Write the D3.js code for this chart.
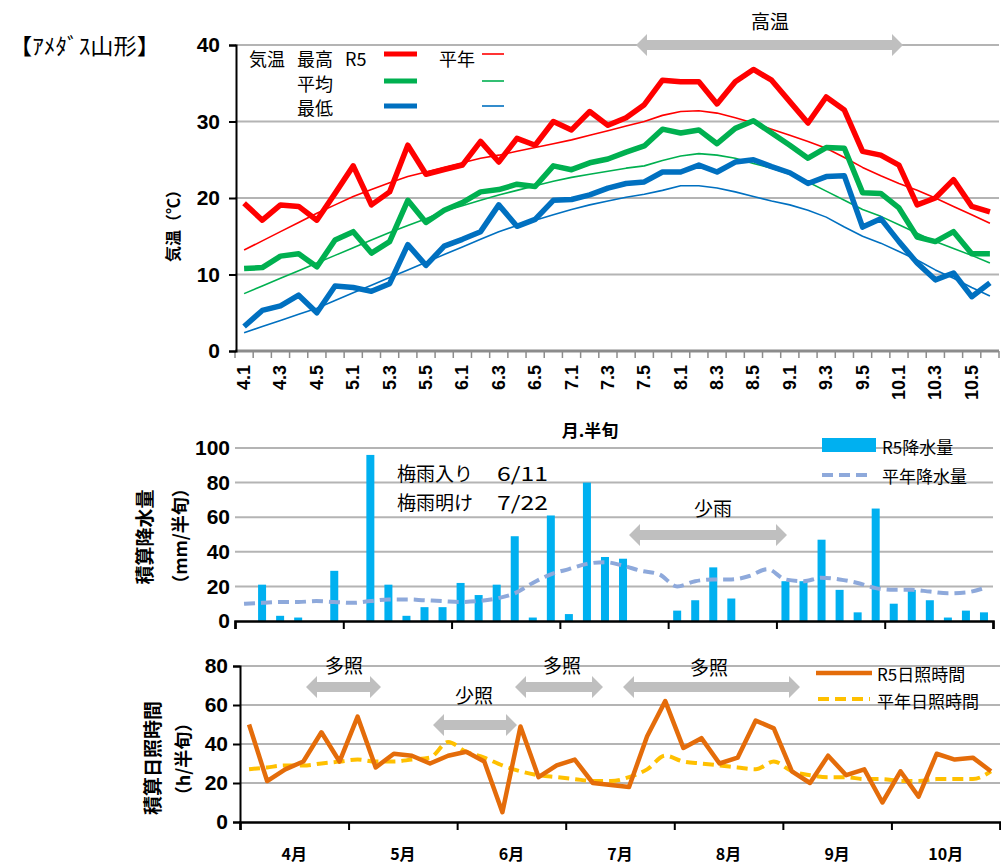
<!DOCTYPE html>
<html><head><meta charset="utf-8">
<script src="https://cdn.jsdelivr.net/npm/d3@7"></script>
<style>
html,body{margin:0;padding:0;background:#fff;}
svg text{font-family:"Noto Sans CJK JP","Noto Sans",sans-serif;}
.num{font-family:"Liberation Sans",Arial,sans-serif !important;}
</style></head>
<body>
<svg id="c" width="1001" height="866"></svg>
<script>
// ---------- data ----------
const periods = ["4.1","4.2","4.3","4.4","4.5","4.6","5.1","5.2","5.3","5.4","5.5","5.6",
 "6.1","6.2","6.3","6.4","6.5","6.6","7.1","7.2","7.3","7.4","7.5","7.6",
 "8.1","8.2","8.3","8.4","8.5","8.6","9.1","9.2","9.3","9.4","9.5","9.6",
 "10.1","10.2","10.3","10.4","10.5","10.6"];
const months = ["4月","5月","6月","7月","8月","9月","10月"];
const maxR5 = [19.3,17.1,19.1,18.9,17.1,20.6,24.2,19.1,20.8,26.9,23.1,23.7,24.3,27.4,24.7,27.8,26.9,30.0,28.9,31.3,29.5,30.5,32.2,35.4,35.2,35.2,32.3,35.2,36.8,35.4,32.6,29.8,33.2,31.5,26.1,25.6,24.3,19.1,20.0,22.4,18.9,18.2];
const maxNorm = [13.2,14.4,15.6,16.8,18.0,19.1,20.2,21.1,22.0,22.8,23.4,24.0,24.6,25.2,25.6,26.1,26.6,27.1,27.6,28.2,28.8,29.4,30.0,30.8,31.3,31.4,31.1,30.5,29.8,29.0,28.2,27.4,26.5,25.3,24.0,22.9,21.9,21.0,20.0,18.9,17.8,16.7];
const meanR5 = [10.8,10.9,12.4,12.7,11.0,14.5,15.6,12.8,14.3,19.7,16.8,18.4,19.4,20.8,21.1,21.8,21.5,24.2,23.7,24.6,25.1,26.0,26.8,29.0,28.5,28.9,27.1,29.1,30.1,28.5,26.9,25.2,26.6,26.5,20.7,20.6,18.7,14.9,14.3,15.6,12.7,12.7];
const meanNorm = [7.5,8.5,9.5,10.5,11.5,12.5,13.5,14.5,15.5,16.4,17.3,18.3,19.0,19.7,20.4,21.0,21.6,22.2,22.7,23.1,23.5,23.9,24.2,24.9,25.5,25.8,25.6,25.2,24.5,23.9,23.1,22.1,20.9,19.7,18.5,17.6,16.5,15.4,14.3,13.4,12.5,11.5];
const minR5 = [3.2,5.3,5.9,7.3,5.0,8.5,8.3,7.8,8.8,13.9,11.2,13.7,14.6,15.6,19.1,16.3,17.2,19.7,19.8,20.4,21.3,21.9,22.1,23.4,23.4,24.3,23.4,24.7,25.0,24.1,23.3,21.9,22.8,22.9,16.2,17.3,14.3,11.5,9.3,10.2,7.1,8.9];
const minNorm = [2.4,3.2,4.0,4.8,5.6,6.6,7.6,8.6,9.6,10.6,11.6,12.6,13.6,14.6,15.6,16.4,17.1,17.8,18.5,19.1,19.6,20.1,20.5,21.0,21.6,21.6,21.3,20.8,20.2,19.6,19.1,18.4,17.5,16.2,15.0,14.1,13.0,11.9,10.6,9.5,8.3,7.2];
const precipR5 = [0,21,3,2,0,29,0,96,21,3,8,8,22,15,21,49,2,61,4,80,37,36,0,0,6,12,31,13,0,0,23,23,47,18,5,65,10,18,12,2,6,5];
const precipNorm = [10,10.5,11,11,11.5,11,10.5,11.5,12.5,12.5,12,11.5,11,11.5,13,16,22,27,30,33,34,32,29,27,20,23,24,24,26,30,24,23,25,24,22,19,18,18,17,16,16.5,19];
const sunR5 = [50,21,27,31,46,31,54,28,35,34,30,34,36,31,5,49,23,29,32,20,19,18,44,62,38,43,30,33,52,48,26,20,34,24,27,10,26,13,35,32,33,26];
const sunNorm = [27,28,29,29,30,31,32,31,31,32,33,41,36,33,29,26,24,23,22,21,21,23,27,34,31,30,29,28,27,31,26,24,23,23,22,22,21,21,22,22,22,26];
const tempTicks = [0,10,20,30,40];
const precipTicks = [0,20,40,60,80,100];
const sunTicks = [0,20,40,60,80];

// ---------- helpers ----------
const svg = d3.select("#c");
const idx = d3.range(periods.length);
const GRID = "#b4b4b4";
const RED = "#ff0000", GREEN = "#00b050", BLUE = "#0070c0";

function arrow(g, x1, x2, y){
  const sh = 5, hh = 11, hl = 11;
  const p = d3.path();
  p.moveTo(x1, y);
  p.lineTo(x1+hl, y-hh); p.lineTo(x1+hl, y-sh);
  p.lineTo(x2-hl, y-sh); p.lineTo(x2-hl, y-hh);
  p.lineTo(x2, y); p.lineTo(x2-hl, y+hh); p.lineTo(x2-hl, y+sh);
  p.lineTo(x1+hl, y+sh); p.lineTo(x1+hl, y+hh); p.closePath();
  g.append("path").attr("d", p.toString()).attr("fill", "#bfbfbf");
}
function txt(g, x, y, s, size, opts={}){
  const t = g.append("text").attr("x", x).attr("y", y).text(s)
    .attr("font-size", size).attr("fill", "#000")
    .attr("dominant-baseline", "central")
    .attr("text-anchor", opts.anchor || "start");
  if (opts.weight) t.attr("font-weight", opts.weight);
  if (opts.cls) t.attr("class", opts.cls);
  if (opts.len) t.attr("textLength", opts.len).attr("lengthAdjust", "spacingAndGlyphs");
  if (opts.rotate) t.attr("transform", `rotate(${opts.rotate},${x},${y})`);
  return t;
}

// title
txt(svg, 9, 44, "【ｱﾒﾀﾞｽ山形】", 22, {len: 151});

// ================= TOP PANEL =================
const xT = d3.scaleBand().domain(idx).range([235, 999]);
const yT = d3.scaleLinear().domain([0, 40]).range([351, 45]);
const gTop = svg.append("g");

gTop.selectAll("line.g").data(tempTicks.filter(d => d > 0)).join("line")
  .attr("x1", 235).attr("x2", 999).attr("y1", d => yT(d)).attr("y2", d => yT(d))
  .attr("stroke", GRID).attr("stroke-width", 2);

const xTickPos = d3.range(periods.length + 1).map(i => 235 + i * xT.step());
gTop.selectAll("line.xt").data(xTickPos).join("line")
  .attr("x1", d => d).attr("x2", d => d).attr("y1", 351).attr("y2", 358)
  .attr("stroke", "#8c8c8c").attr("stroke-width", 1.5);
gTop.append("line").attr("x1", 235).attr("x2", 999).attr("y1", 351).attr("y2", 351)
  .attr("stroke", "#8c8c8c").attr("stroke-width", 3);

const yAxT = gTop.append("g").attr("transform", "translate(236,0)")
  .call(d3.axisLeft(yT).tickValues(tempTicks).tickSize(7).tickPadding(9));
yAxT.select(".domain").attr("stroke", "#000").attr("stroke-width", 2);
yAxT.selectAll(".tick line").attr("stroke", "#000").attr("stroke-width", 2);
yAxT.selectAll(".tick text").attr("class", "num").attr("font-size", 21).attr("font-weight", "bold").attr("fill", "#000");

idx.filter(i => i % 2 === 0).forEach(i => {
  txt(gTop, xT(i) + xT.bandwidth()/2, 365, periods[i], 18, {anchor: "end", rotate: -90, cls: "num", weight: "bold"});
});
txt(gTop, 590, 429, "月.半旬", 17, {anchor: "middle", weight: "bold"});
txt(gTop, 172, 222, "気温（℃）", 16, {anchor: "middle", rotate: -90, weight: "bold"});

const lineT = d3.line().x((d, i) => xT(i) + xT.bandwidth()/2).y(d => yT(d));
const tSeries = [
  [maxNorm, RED, 1.6], [meanNorm, GREEN, 1.6], [minNorm, BLUE, 1.6],
  [maxR5, RED, 5.5], [meanR5, GREEN, 5.5], [minR5, BLUE, 5.5]
];
tSeries.forEach(([d, c, w]) => {
  gTop.append("path").datum(d).attr("d", lineT).attr("fill", "none")
    .attr("stroke", c).attr("stroke-width", w).attr("stroke-linejoin", "round");
});

txt(gTop, 249, 58, "気温", 18);
txt(gTop, 297, 58, "最高", 18);
txt(gTop, 345, 58, "R5", 18);
txt(gTop, 297, 83, "平均", 18);
txt(gTop, 297, 107, "最低", 18);
txt(gTop, 439, 58, "平年", 18);
[[RED, 54], [GREEN, 81], [BLUE, 106]].forEach(([c, y]) => {
  gTop.append("line").attr("x1", 384).attr("x2", 417).attr("y1", y).attr("y2", y).attr("stroke", c).attr("stroke-width", 5);
  gTop.append("line").attr("x1", 482).attr("x2", 504).attr("y1", y).attr("y2", y).attr("stroke", c).attr("stroke-width", 1.6);
});

txt(gTop, 770, 20, "高温", 19, {anchor: "middle"});
arrow(gTop, 636, 903, 45);

// ================= MIDDLE PANEL =================
const xM = d3.scaleBand().domain(idx).range([235, 993]);
const yM = d3.scaleLinear().domain([0, 100]).range([621, 448]);
const gMid = svg.append("g");
gMid.selectAll("line.g").data(precipTicks.filter(d => d > 0)).join("line")
  .attr("x1", 235).attr("x2", 993).attr("y1", d => yM(d)).attr("y2", d => yM(d))
  .attr("stroke", GRID).attr("stroke-width", 2);
const yAxM = gMid.append("g").attr("transform", "translate(235,0)")
  .call(d3.axisLeft(yM).tickValues(precipTicks).tickSize(0).tickPadding(5));
yAxM.select(".domain").remove();
yAxM.selectAll(".tick text").attr("class", "num").attr("font-size", 21).attr("font-weight", "bold").attr("fill", "#000");

gMid.selectAll("rect.b").data(precipR5).join("rect")
  .attr("x", (d, i) => xM(i) + xM.bandwidth()/2 - 4).attr("width", 8)
  .attr("y", d => yM(d)).attr("height", d => yM(0) - yM(d))
  .attr("fill", "#00b0f0");

const lineM = d3.line().x((d, i) => xM(i) + xM.bandwidth()/2).y(d => yM(d)).curve(d3.curveMonotoneX);
gMid.append("path").datum(precipNorm).attr("d", lineM).attr("fill", "none")
  .attr("stroke", "#8ea9db").attr("stroke-width", 4).attr("stroke-dasharray", "11,6");

const xMon = d3.scaleLinear().domain([0, 7]).range([235, 993]);
const xAxM = gMid.append("g").attr("transform", "translate(0,621)")
  .call(d3.axisBottom(xMon).tickValues(d3.range(8)).tickSize(8).tickFormat(""));
xAxM.select(".domain").attr("stroke", "#000").attr("stroke-width", 2.5);
xAxM.selectAll(".tick line").attr("stroke", "#000").attr("stroke-width", 2);

txt(gMid, 143, 537, "積算降水量", 19, {anchor: "middle", rotate: -90, weight: "bold"});
txt(gMid, 179, 536, "（mm/半旬）", 18, {anchor: "middle", rotate: -90, weight: "bold"});
txt(gMid, 397, 472, "梅雨入り", 19);
txt(gMid, 497, 472, "6/11", 19, {len: 51});
txt(gMid, 397, 501, "梅雨明け", 19);
txt(gMid, 497, 501, "7/22", 19, {len: 51});
txt(gMid, 713, 507, "少雨", 19, {anchor: "middle"});
arrow(gMid, 629, 787, 535);
gMid.append("rect").attr("x", 822).attr("y", 438).attr("width", 54).attr("height", 14).attr("fill", "#00b0f0");
txt(gMid, 882, 446, "R5降水量", 17);
gMid.append("line").attr("x1", 822).attr("x2", 872).attr("y1", 475).attr("y2", 475)
  .attr("stroke", "#8ea9db").attr("stroke-width", 4).attr("stroke-dasharray", "11,6");
txt(gMid, 882, 475, "平年降水量", 17);

// ================= BOTTOM PANEL =================
const xB = d3.scaleBand().domain(idx).range([240, 1000]);
const yB = d3.scaleLinear().domain([0, 80]).range([822, 666]);
const gBot = svg.append("g");
gBot.selectAll("line.g").data(sunTicks.filter(d => d > 0)).join("line")
  .attr("x1", 240).attr("x2", 1000).attr("y1", d => yB(d)).attr("y2", d => yB(d))
  .attr("stroke", GRID).attr("stroke-width", 2);
const yAxB = gBot.append("g").attr("transform", "translate(240,0)")
  .call(d3.axisLeft(yB).tickValues(sunTicks).tickSize(7).tickPadding(5));
yAxB.select(".domain").attr("stroke", "#000").attr("stroke-width", 2);
yAxB.selectAll(".tick line").attr("stroke", "#000").attr("stroke-width", 2);
yAxB.selectAll(".tick text").attr("class", "num").attr("font-size", 21).attr("font-weight", "bold").attr("fill", "#000");

const xc = (d, i) => xB(i) + xB.bandwidth()/2;
gBot.append("path").datum(sunNorm).attr("d", d3.line().x(xc).y(d => yB(d)).curve(d3.curveMonotoneX)).attr("fill", "none")
  .attr("stroke", "#ffc000").attr("stroke-width", 4).attr("stroke-dasharray", "11,6");
gBot.append("path").datum(sunR5).attr("d", d3.line().x(xc).y(d => yB(d))).attr("fill", "none")
  .attr("stroke", "#e46c0a").attr("stroke-width", 4.5).attr("stroke-linejoin", "round");

const xMonB = d3.scaleLinear().domain([0, 7]).range([240, 1000]);
const xAxB = gBot.append("g").attr("transform", "translate(0,822)")
  .call(d3.axisBottom(xMonB).tickValues(d3.range(8)).tickSize(8).tickFormat(""));
xAxB.select(".domain").attr("stroke", "#000").attr("stroke-width", 2.5);
xAxB.selectAll(".tick line").attr("stroke", "#000").attr("stroke-width", 2);
months.forEach((m, i) => txt(gBot, xMonB(i + 0.5), 853, m, 16, {anchor: "middle", weight: "bold"}));

txt(gBot, 151, 758, "積算日照時間", 19, {anchor: "middle", rotate: -90, weight: "bold"});
txt(gBot, 182, 759, "（h/半旬）", 18, {anchor: "middle", rotate: -90, weight: "bold"});

txt(gBot, 344, 664, "多照", 19, {anchor: "middle"});
arrow(gBot, 306, 381, 687);
txt(gBot, 474, 694, "少照", 19, {anchor: "middle"});
arrow(gBot, 433, 517, 725);
txt(gBot, 562, 664, "多照", 19, {anchor: "middle"});
arrow(gBot, 515, 603, 687);
txt(gBot, 709, 666, "多照", 19, {anchor: "middle"});
arrow(gBot, 623, 800, 687);

gBot.append("line").attr("x1", 816).attr("x2", 872).attr("y1", 673).attr("y2", 673)
  .attr("stroke", "#e46c0a").attr("stroke-width", 4.5);
txt(gBot, 877, 673, "R5日照時間", 17);
gBot.append("line").attr("x1", 818).attr("x2", 870).attr("y1", 699).attr("y2", 699)
  .attr("stroke", "#ffc000").attr("stroke-width", 4).attr("stroke-dasharray", "11,6");
txt(gBot, 877, 700, "平年日照時間", 17);
</script>
</body></html>
